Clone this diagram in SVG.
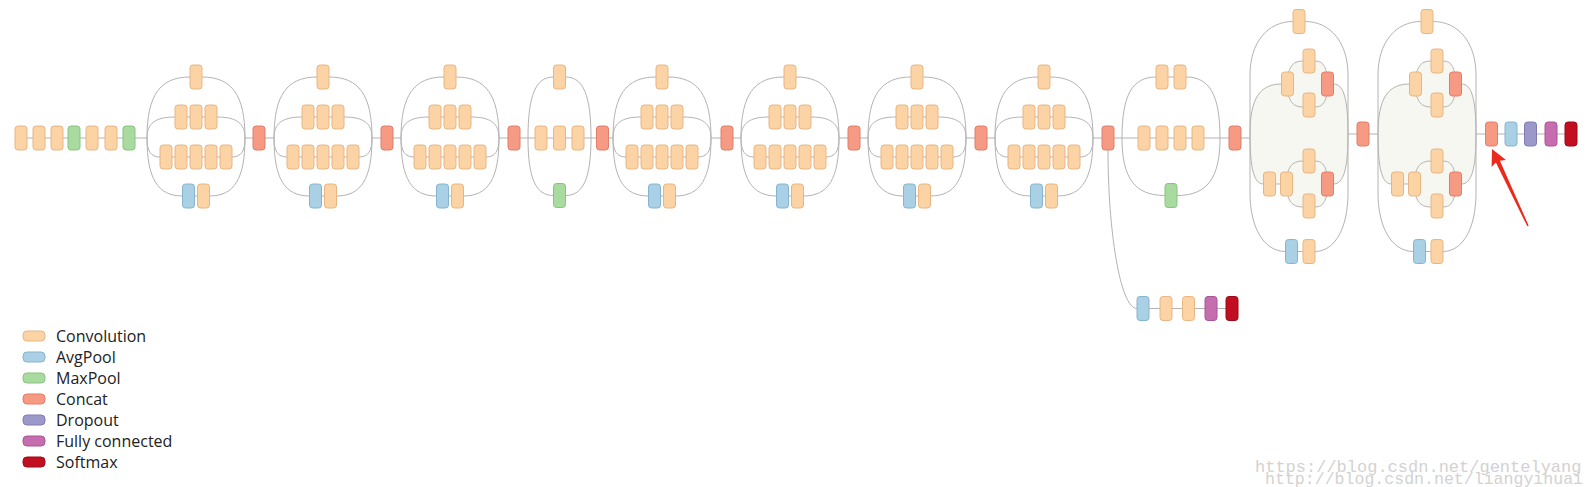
<svg xmlns="http://www.w3.org/2000/svg" width="1587" height="487" viewBox="0 0 1587 487">
<style>
.conv{fill:#fcd3a5;stroke:#e7b682}
.avg{fill:#a9d0e5;stroke:#88b5ce}
.max{fill:#a9dba1;stroke:#88c37f}
.cat{fill:#f69a84;stroke:#e07e69}
.drop{fill:#9c98c9;stroke:#807cb3}
.fc{fill:#c56daf;stroke:#a95796}
.soft{fill:#c10e20;stroke:#9d0816}
rect{stroke-width:1}
#connectors path{fill:none;stroke:#b3b3b3;stroke-width:1}
.shade{fill:#f6f7f1;stroke:none}
.leg{font-family:"Open Sans","Liberation Sans",sans-serif;font-size:16px;fill:#222}
.wm{font-family:"Liberation Mono",monospace;font-size:17px;fill:#d2d2d2}
</style>
<rect x="0" y="0" width="1587" height="487" fill="#ffffff" stroke="none"/>
<g id="shading">
<path class="shade" d="M1250,134c0,-35 9.45,-50 31.5,-50H1287.5c0,-16.1 4.65,-23 15.5,-23h12c8.75,0 12.5,6.9 12.5,23H1333.5c10.15,0 14.5,15 14.5,50c0,35 -4.35,50 -14.5,50H1327.5c0,16.1 -3.75,23 -12.5,23h-12c-11.550,0 -16.5,-6.9 -16.5,-23H1263.5c-9.45,0 -13.5,-15 -13.5,-50Z"/>
<path class="shade" d="M1378,134c0,-35 9.45,-50 31.5,-50H1415.5c0,-16.1 4.65,-23 15.5,-23h12c8.75,0 12.5,6.9 12.5,23H1461.5c10.15,0 14.5,15 14.5,50c0,35 -4.35,50 -14.5,50H1455.5c0,16.1 -3.75,23 -12.5,23h-12c-11.55,0 -16.5,-6.9 -16.5,-23H1391.5c-9.45,0 -13.5,-15 -13.5,-50Z"/>
</g>
<g id="connectors">
<path id="main-line" d="M15,138H147 M245,138H274 M372,138H401 M499,138H613 M711,138H741 M839,138H868 M966,138H995 M1093,138H1250 M1348,134H1378 M1476,134H1571"/>
<path id="e-a1" d="M147,138c0,-42.7 12.9,-61 43,-61h12c30.1,0 43,18.3 43,61 M147,138c0,-14.7 8.4,-21 28,-21h42c19.6,0 28,6.3 28,21 M147,138c0,13.3 3.9,19 13,19h72c9.1,0 13,-5.7 13,-19 M147,138c0,40.6 10.65,58 35.5,58h27c24.85,0 35.5,-17.4 35.5,-58"/>
<path id="e-a2" d="M274,138c0,-42.7 12.9,-61 43,-61h12c30.1,0 43,18.3 43,61 M274,138c0,-14.7 8.4,-21 28,-21h42c19.6,0 28,6.3 28,21 M274,138c0,13.3 3.9,19 13,19h72c9.1,0 13,-5.7 13,-19 M274,138c0,40.6 10.65,58 35.5,58h27c24.85,0 35.5,-17.4 35.5,-58"/>
<path id="e-a3" d="M401,138c0,-42.7 12.9,-61 43,-61h12c30.1,0 43,18.3 43,61 M401,138c0,-14.7 8.4,-21 28,-21h42c19.6,0 28,6.3 28,21 M401,138c0,13.3 3.9,19 13,19h72c9.1,0 13,-5.7 13,-19 M401,138c0,40.6 10.65,58 35.5,58h27c24.85,0 35.5,-17.4 35.5,-58"/>
<path id="e-ra" d="M528,138c0,-42.7 7.65,-61 25.5,-61h12c17.85,0 25.5,18.3 25.5,61 M528,138c0,40.25 7.65,57.5 25.5,57.5h12c17.85,0 25.5,-17.25 25.5,-57.5"/>
<path id="e-b1" d="M613,138c0,-42.7 12.9,-61 43,-61h12c30.1,0 43,18.3 43,61 M613,138c0,-14.7 8.4,-21 28,-21h42c19.6,0 28,6.3 28,21 M613,138c0,13.3 3.9,19 13,19h72c9.1,0 13,-5.7 13,-19 M613,138c0,40.6 10.65,58 35.5,58h27c24.85,0 35.5,-17.4 35.5,-58"/>
<path id="e-b2" d="M741,138c0,-42.7 12.9,-61 43,-61h12c30.1,0 43,18.3 43,61 M741,138c0,-14.7 8.4,-21 28,-21h42c19.6,0 28,6.3 28,21 M741,138c0,13.3 3.9,19 13,19h72c9.1,0 13,-5.7 13,-19 M741,138c0,40.6 10.65,58 35.5,58h27c24.85,0 35.5,-17.4 35.5,-58"/>
<path id="e-b3" d="M868,138c0,-42.7 12.9,-61 43,-61h12c30.1,0 43,18.3 43,61 M868,138c0,-14.7 8.4,-21 28,-21h42c19.6,0 28,6.3 28,21 M868,138c0,13.3 3.9,19 13,19h72c9.1,0 13,-5.7 13,-19 M868,138c0,40.6 10.65,58 35.5,58h27c24.85,0 35.5,-17.4 35.5,-58"/>
<path id="e-b4" d="M995,138c0,-42.7 12.9,-61 43,-61h12c30.1,0 43,18.3 43,61 M995,138c0,-14.7 8.4,-21 28,-21h42c19.6,0 28,6.3 28,21 M995,138c0,13.3 3.9,19 13,19h72c9.1,0 13,-5.7 13,-19 M995,138c0,40.6 10.65,58 35.5,58h27c24.85,0 35.5,-17.4 35.5,-58"/>
<path id="e-rb" d="M1122,138c0,-42.7 10.2,-61 34,-61h30c23.8,0 34,18.3 34,61 M1122,138c0,40.25 12.9,57.5 43,57.5h12c30.1,0 43,-17.25 43,-57.5"/>
<path id="e-aux" d="M1108,150C1108,230 1120,308.5 1137,308.5H1238"/>
<path id="e-c1" d="M1250,134V75c0,-32 17.2,-53.5 43,-53.5h12c25.8,0 43,21.5 43,53.5V134 M1250,134V193c0,35 14.2,58.5 35.5,58.5h29.5c19.8,0 33,-23.4 33,-58.5V134 M1250,134c0,-35 9.45,-50 31.5,-50 M1333.5,84c10.15,0 14.5,15 14.5,50 M1287.5,84c0,-16.1 4.65,-23 15.5,-23h12c8.75,0 12.5,6.9 12.5,23 M1287.5,84c0,16.1 4.65,23 15.5,23h12c8.75,0 12.5,-6.9 12.5,-23 M1250,134c0,35 4.05,50 13.5,50H1286.5 M1286.5,184c0,-16.1 4.95,-23 16.5,-23h12c8.75,0 12.5,6.9 12.5,23 M1286.5,184c0,16.1 4.95,23 16.5,23h12c8.75,0 12.5,-6.9 12.5,-23 M1333.5,184c10.15,0 14.5,-15 14.5,-50"/>
<path id="e-c2" d="M1378,134V75c0,-32 17.2,-53.5 43,-53.5h12c25.8,0 43,21.5 43,53.5V134 M1378,134V193c0,35 14.2,58.5 35.5,58.5h29.5c19.8,0 33,-23.4 33,-58.5V134 M1378,134c0,-35 9.45,-50 31.5,-50 M1461.5,84c10.15,0 14.5,15 14.5,50 M1415.5,84c0,-16.1 4.65,-23 15.5,-23h12c8.75,0 12.5,6.9 12.5,23 M1415.5,84c0,16.1 4.65,23 15.5,23h12c8.75,0 12.5,-6.9 12.5,-23 M1378,134c0,35 4.05,50 13.5,50H1414.5 M1414.5,184c0,-16.1 4.95,-23 16.5,-23h12c8.75,0 12.5,6.9 12.5,23 M1414.5,184c0,16.1 4.95,23 16.5,23h12c8.75,0 12.5,-6.9 12.5,-23 M1461.5,184c10.15,0 14.5,-15 14.5,-50"/>
</g>
<g id="nodes">
<g id="stem-1" class="conv"><rect x="15" y="126" width="12" height="24" rx="3"/></g>
<g id="stem-2" class="conv"><rect x="33" y="126" width="12" height="24" rx="3"/></g>
<g id="stem-3" class="conv"><rect x="51" y="126" width="12" height="24" rx="3"/></g>
<g id="stem-4" class="max"><rect x="68" y="126" width="12" height="24" rx="3"/></g>
<g id="stem-5" class="conv"><rect x="86" y="126" width="12" height="24" rx="3"/></g>
<g id="stem-6" class="conv"><rect x="105" y="126" width="12" height="24" rx="3"/></g>
<g id="stem-7" class="max"><rect x="123" y="126" width="12" height="24" rx="3"/></g>

<g id="a1-top" class="conv"><rect x="190" y="65" width="12" height="24" rx="3"/></g>
<g id="a1-r2-1" class="conv"><rect x="175" y="105" width="12" height="24" rx="3"/></g>
<g id="a1-r2-2" class="conv"><rect x="190" y="105" width="12" height="24" rx="3"/></g>
<g id="a1-r2-3" class="conv"><rect x="205" y="105" width="12" height="24" rx="3"/></g>
<g id="a1-r3-1" class="conv"><rect x="160" y="145" width="12" height="24" rx="3"/></g>
<g id="a1-r3-2" class="conv"><rect x="175" y="145" width="12" height="24" rx="3"/></g>
<g id="a1-r3-3" class="conv"><rect x="190" y="145" width="12" height="24" rx="3"/></g>
<g id="a1-r3-4" class="conv"><rect x="205" y="145" width="12" height="24" rx="3"/></g>
<g id="a1-r3-5" class="conv"><rect x="220" y="145" width="12" height="24" rx="3"/></g>
<g id="a1-pool" class="avg"><rect x="182.5" y="184" width="12" height="24" rx="3"/></g>
<g id="a1-r4" class="conv"><rect x="197.5" y="184" width="12" height="24" rx="3"/></g>
<g id="a1-concat" class="cat"><rect x="253" y="126" width="12" height="24" rx="3"/></g>

<g id="a2-top" class="conv"><rect x="317" y="65" width="12" height="24" rx="3"/></g>
<g id="a2-r2-1" class="conv"><rect x="302" y="105" width="12" height="24" rx="3"/></g>
<g id="a2-r2-2" class="conv"><rect x="317" y="105" width="12" height="24" rx="3"/></g>
<g id="a2-r2-3" class="conv"><rect x="332" y="105" width="12" height="24" rx="3"/></g>
<g id="a2-r3-1" class="conv"><rect x="287" y="145" width="12" height="24" rx="3"/></g>
<g id="a2-r3-2" class="conv"><rect x="302" y="145" width="12" height="24" rx="3"/></g>
<g id="a2-r3-3" class="conv"><rect x="317" y="145" width="12" height="24" rx="3"/></g>
<g id="a2-r3-4" class="conv"><rect x="332" y="145" width="12" height="24" rx="3"/></g>
<g id="a2-r3-5" class="conv"><rect x="347" y="145" width="12" height="24" rx="3"/></g>
<g id="a2-pool" class="avg"><rect x="309.5" y="184" width="12" height="24" rx="3"/></g>
<g id="a2-r4" class="conv"><rect x="324.5" y="184" width="12" height="24" rx="3"/></g>
<g id="a2-concat" class="cat"><rect x="381" y="126" width="12" height="24" rx="3"/></g>

<g id="a3-top" class="conv"><rect x="444" y="65" width="12" height="24" rx="3"/></g>
<g id="a3-r2-1" class="conv"><rect x="429" y="105" width="12" height="24" rx="3"/></g>
<g id="a3-r2-2" class="conv"><rect x="444" y="105" width="12" height="24" rx="3"/></g>
<g id="a3-r2-3" class="conv"><rect x="459" y="105" width="12" height="24" rx="3"/></g>
<g id="a3-r3-1" class="conv"><rect x="414" y="145" width="12" height="24" rx="3"/></g>
<g id="a3-r3-2" class="conv"><rect x="429" y="145" width="12" height="24" rx="3"/></g>
<g id="a3-r3-3" class="conv"><rect x="444" y="145" width="12" height="24" rx="3"/></g>
<g id="a3-r3-4" class="conv"><rect x="459" y="145" width="12" height="24" rx="3"/></g>
<g id="a3-r3-5" class="conv"><rect x="474" y="145" width="12" height="24" rx="3"/></g>
<g id="a3-pool" class="avg"><rect x="436.5" y="184" width="12" height="24" rx="3"/></g>
<g id="a3-r4" class="conv"><rect x="451.5" y="184" width="12" height="24" rx="3"/></g>
<g id="a3-concat" class="cat"><rect x="508" y="126" width="12" height="24" rx="3"/></g>

<g id="ra-top" class="conv"><rect x="553.5" y="65" width="12" height="24" rx="3"/></g>
<g id="ra-m1" class="conv"><rect x="535" y="126" width="12" height="24" rx="3"/></g>
<g id="ra-m2" class="conv"><rect x="553.5" y="126" width="12" height="24" rx="3"/></g>
<g id="ra-m3" class="conv"><rect x="572" y="126" width="12" height="24" rx="3"/></g>
<g id="ra-pool" class="max"><rect x="553.5" y="183.5" width="12" height="24" rx="3"/></g>
<g id="ra-concat" class="cat"><rect x="596.5" y="126" width="12" height="24" rx="3"/></g>

<g id="b1-top" class="conv"><rect x="656" y="65" width="12" height="24" rx="3"/></g>
<g id="b1-r2-1" class="conv"><rect x="641" y="105" width="12" height="24" rx="3"/></g>
<g id="b1-r2-2" class="conv"><rect x="656" y="105" width="12" height="24" rx="3"/></g>
<g id="b1-r2-3" class="conv"><rect x="671" y="105" width="12" height="24" rx="3"/></g>
<g id="b1-r3-1" class="conv"><rect x="626" y="145" width="12" height="24" rx="3"/></g>
<g id="b1-r3-2" class="conv"><rect x="641" y="145" width="12" height="24" rx="3"/></g>
<g id="b1-r3-3" class="conv"><rect x="656" y="145" width="12" height="24" rx="3"/></g>
<g id="b1-r3-4" class="conv"><rect x="671" y="145" width="12" height="24" rx="3"/></g>
<g id="b1-r3-5" class="conv"><rect x="686" y="145" width="12" height="24" rx="3"/></g>
<g id="b1-pool" class="avg"><rect x="648.5" y="184" width="12" height="24" rx="3"/></g>
<g id="b1-r4" class="conv"><rect x="663.5" y="184" width="12" height="24" rx="3"/></g>
<g id="b1-concat" class="cat"><rect x="721" y="126" width="12" height="24" rx="3"/></g>

<g id="b2-top" class="conv"><rect x="784" y="65" width="12" height="24" rx="3"/></g>
<g id="b2-r2-1" class="conv"><rect x="769" y="105" width="12" height="24" rx="3"/></g>
<g id="b2-r2-2" class="conv"><rect x="784" y="105" width="12" height="24" rx="3"/></g>
<g id="b2-r2-3" class="conv"><rect x="799" y="105" width="12" height="24" rx="3"/></g>
<g id="b2-r3-1" class="conv"><rect x="754" y="145" width="12" height="24" rx="3"/></g>
<g id="b2-r3-2" class="conv"><rect x="769" y="145" width="12" height="24" rx="3"/></g>
<g id="b2-r3-3" class="conv"><rect x="784" y="145" width="12" height="24" rx="3"/></g>
<g id="b2-r3-4" class="conv"><rect x="799" y="145" width="12" height="24" rx="3"/></g>
<g id="b2-r3-5" class="conv"><rect x="814" y="145" width="12" height="24" rx="3"/></g>
<g id="b2-pool" class="avg"><rect x="776.5" y="184" width="12" height="24" rx="3"/></g>
<g id="b2-r4" class="conv"><rect x="791.5" y="184" width="12" height="24" rx="3"/></g>
<g id="b2-concat" class="cat"><rect x="848" y="126" width="12" height="24" rx="3"/></g>

<g id="b3-top" class="conv"><rect x="911" y="65" width="12" height="24" rx="3"/></g>
<g id="b3-r2-1" class="conv"><rect x="896" y="105" width="12" height="24" rx="3"/></g>
<g id="b3-r2-2" class="conv"><rect x="911" y="105" width="12" height="24" rx="3"/></g>
<g id="b3-r2-3" class="conv"><rect x="926" y="105" width="12" height="24" rx="3"/></g>
<g id="b3-r3-1" class="conv"><rect x="881" y="145" width="12" height="24" rx="3"/></g>
<g id="b3-r3-2" class="conv"><rect x="896" y="145" width="12" height="24" rx="3"/></g>
<g id="b3-r3-3" class="conv"><rect x="911" y="145" width="12" height="24" rx="3"/></g>
<g id="b3-r3-4" class="conv"><rect x="926" y="145" width="12" height="24" rx="3"/></g>
<g id="b3-r3-5" class="conv"><rect x="941" y="145" width="12" height="24" rx="3"/></g>
<g id="b3-pool" class="avg"><rect x="903.5" y="184" width="12" height="24" rx="3"/></g>
<g id="b3-r4" class="conv"><rect x="918.5" y="184" width="12" height="24" rx="3"/></g>
<g id="b3-concat" class="cat"><rect x="975" y="126" width="12" height="24" rx="3"/></g>

<g id="b4-top" class="conv"><rect x="1038" y="65" width="12" height="24" rx="3"/></g>
<g id="b4-r2-1" class="conv"><rect x="1023" y="105" width="12" height="24" rx="3"/></g>
<g id="b4-r2-2" class="conv"><rect x="1038" y="105" width="12" height="24" rx="3"/></g>
<g id="b4-r2-3" class="conv"><rect x="1053" y="105" width="12" height="24" rx="3"/></g>
<g id="b4-r3-1" class="conv"><rect x="1008" y="145" width="12" height="24" rx="3"/></g>
<g id="b4-r3-2" class="conv"><rect x="1023" y="145" width="12" height="24" rx="3"/></g>
<g id="b4-r3-3" class="conv"><rect x="1038" y="145" width="12" height="24" rx="3"/></g>
<g id="b4-r3-4" class="conv"><rect x="1053" y="145" width="12" height="24" rx="3"/></g>
<g id="b4-r3-5" class="conv"><rect x="1068" y="145" width="12" height="24" rx="3"/></g>
<g id="b4-pool" class="avg"><rect x="1030.5" y="184" width="12" height="24" rx="3"/></g>
<g id="b4-r4" class="conv"><rect x="1045.5" y="184" width="12" height="24" rx="3"/></g>
<g id="b4-concat" class="cat"><rect x="1102" y="126" width="12" height="24" rx="3"/></g>

<g id="rb-top-1" class="conv"><rect x="1156" y="65" width="12" height="24" rx="3"/></g>
<g id="rb-top-2" class="conv"><rect x="1174" y="65" width="12" height="24" rx="3"/></g>
<g id="rb-m1" class="conv"><rect x="1138" y="126" width="12" height="24" rx="3"/></g>
<g id="rb-m2" class="conv"><rect x="1156" y="126" width="12" height="24" rx="3"/></g>
<g id="rb-m3" class="conv"><rect x="1174" y="126" width="12" height="24" rx="3"/></g>
<g id="rb-m4" class="conv"><rect x="1192" y="126" width="12" height="24" rx="3"/></g>
<g id="rb-pool" class="max"><rect x="1165" y="183.5" width="12" height="24" rx="3"/></g>
<g id="rb-concat" class="cat"><rect x="1229" y="126" width="12" height="24" rx="3"/></g>

<g id="aux-pool" class="avg"><rect x="1137" y="296.5" width="12" height="24" rx="3"/></g>
<g id="aux-conv-1" class="conv"><rect x="1160" y="296.5" width="12" height="24" rx="3"/></g>
<g id="aux-conv-2" class="conv"><rect x="1182.5" y="296.5" width="12" height="24" rx="3"/></g>
<g id="aux-fc" class="fc"><rect x="1205" y="296.5" width="12" height="24" rx="3"/></g>
<g id="aux-softmax" class="soft"><rect x="1226" y="296.5" width="12" height="24" rx="3"/></g>

<g id="c1-top" class="conv"><rect x="1293" y="9.5" width="12" height="24" rx="3"/></g>
<g id="c1-u-1x1" class="conv"><rect x="1281.5" y="72" width="12" height="24" rx="3"/></g>
<g id="c1-u-a" class="conv"><rect x="1303" y="49" width="12" height="24" rx="3"/></g>
<g id="c1-u-b" class="conv"><rect x="1303" y="93" width="12" height="24" rx="3"/></g>
<g id="c1-u-concat" class="cat"><rect x="1321.5" y="72" width="12" height="24" rx="3"/></g>
<g id="c1-l-1x1" class="conv"><rect x="1263.5" y="172" width="12" height="24" rx="3"/></g>
<g id="c1-l-3x3" class="conv"><rect x="1280.5" y="172" width="12" height="24" rx="3"/></g>
<g id="c1-l-a" class="conv"><rect x="1303" y="149" width="12" height="24" rx="3"/></g>
<g id="c1-l-b" class="conv"><rect x="1303" y="194" width="12" height="24" rx="3"/></g>
<g id="c1-l-concat" class="cat"><rect x="1321.5" y="172" width="12" height="24" rx="3"/></g>
<g id="c1-pool" class="avg"><rect x="1285.5" y="239.5" width="12" height="24" rx="3"/></g>
<g id="c1-b-conv" class="conv"><rect x="1303" y="239.5" width="12" height="24" rx="3"/></g>
<g id="c1-concat" class="cat"><rect x="1357" y="122" width="12" height="24" rx="3"/></g>

<g id="c2-top" class="conv"><rect x="1421" y="9.5" width="12" height="24" rx="3"/></g>
<g id="c2-u-1x1" class="conv"><rect x="1409.5" y="72" width="12" height="24" rx="3"/></g>
<g id="c2-u-a" class="conv"><rect x="1431" y="49" width="12" height="24" rx="3"/></g>
<g id="c2-u-b" class="conv"><rect x="1431" y="93" width="12" height="24" rx="3"/></g>
<g id="c2-u-concat" class="cat"><rect x="1449.5" y="72" width="12" height="24" rx="3"/></g>
<g id="c2-l-1x1" class="conv"><rect x="1391.5" y="172" width="12" height="24" rx="3"/></g>
<g id="c2-l-3x3" class="conv"><rect x="1408.5" y="172" width="12" height="24" rx="3"/></g>
<g id="c2-l-a" class="conv"><rect x="1431" y="149" width="12" height="24" rx="3"/></g>
<g id="c2-l-b" class="conv"><rect x="1431" y="194" width="12" height="24" rx="3"/></g>
<g id="c2-l-concat" class="cat"><rect x="1449.5" y="172" width="12" height="24" rx="3"/></g>
<g id="c2-pool" class="avg"><rect x="1413.5" y="239.5" width="12" height="24" rx="3"/></g>
<g id="c2-b-conv" class="conv"><rect x="1431" y="239.5" width="12" height="24" rx="3"/></g>
<g id="c2-concat" class="cat"><rect x="1485.5" y="122" width="12" height="24" rx="3"/></g>

<g id="out-pool" class="avg"><rect x="1505" y="122" width="12" height="24" rx="3"/></g>
<g id="out-dropout" class="drop"><rect x="1524.5" y="122" width="12" height="24" rx="3"/></g>
<g id="out-fc" class="fc"><rect x="1545" y="122" width="12" height="24" rx="3"/></g>
<g id="out-softmax" class="soft"><rect x="1565" y="122" width="12" height="24" rx="3"/></g>
</g>
<g id="annotation">
<polygon points="1492,149 1506,160.1 1499.9,160.8 1528.7,225.7 1527.3,226.3 1495.9,162.6 1491.6,166.9" fill="#ec2a1c"/>
</g>
<g id="legend">
<g id="leg-conv"><rect class="conv" x="23" y="331" width="22" height="10" rx="4"/><text class="leg" x="56" y="342">Convolution</text></g>
<g id="leg-avg"><rect class="avg" x="23" y="352" width="22" height="10" rx="4"/><text class="leg" x="56" y="363">AvgPool</text></g>
<g id="leg-max"><rect class="max" x="23" y="373" width="22" height="10" rx="4"/><text class="leg" x="56" y="384">MaxPool</text></g>
<g id="leg-cat"><rect class="cat" x="23" y="394" width="22" height="10" rx="4"/><text class="leg" x="56" y="405">Concat</text></g>
<g id="leg-drop"><rect class="drop" x="23" y="415" width="22" height="10" rx="4"/><text class="leg" x="56" y="426">Dropout</text></g>
<g id="leg-fc"><rect class="fc" x="23" y="436" width="22" height="10" rx="4"/><text class="leg" x="56" y="447">Fully connected</text></g>
<g id="leg-soft"><rect class="soft" x="23" y="457" width="22" height="10" rx="4"/><text class="leg" x="56" y="468">Softmax</text></g>
</g>
<g id="watermark">
<text class="wm" x="1255" y="472">https://blog.csdn.net/gentelyang</text>
<text class="wm" x="1265" y="484" textLength="318" lengthAdjust="spacingAndGlyphs">http://blog.csdn.net/liangyihuai</text>
</g>
</svg>
